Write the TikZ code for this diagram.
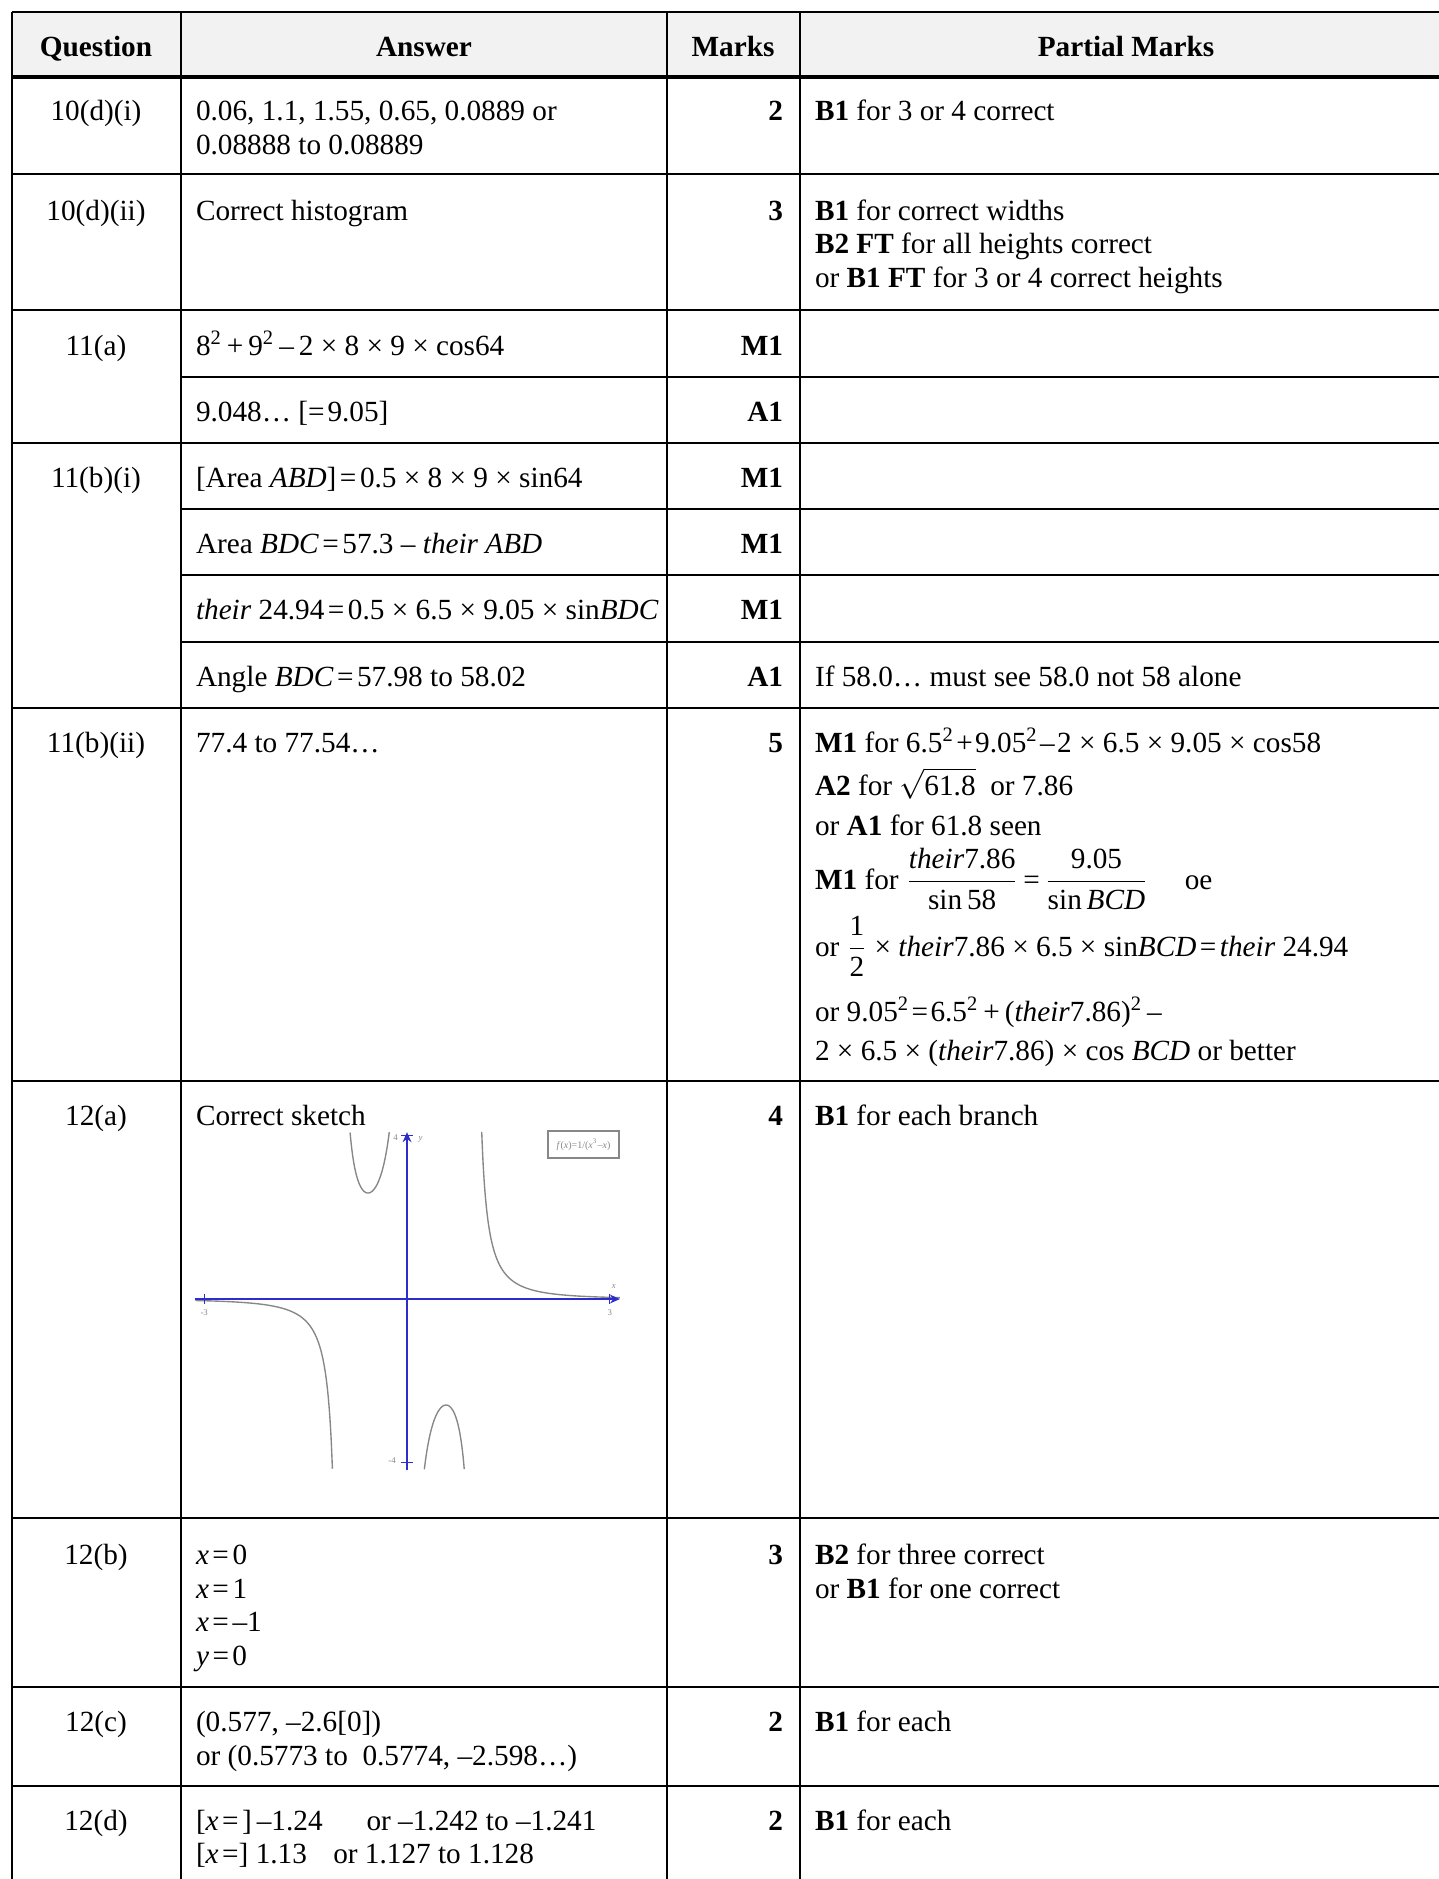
\documentclass[tikz,border=0pt]{standalone}
\usepackage{fontspec}
\setmainfont{Liberation Serif}
\usetikzlibrary{arrows.meta}
\definecolor{hdr}{HTML}{F2F2F2}
\definecolor{axblue}{RGB}{45,45,205}
\definecolor{crv}{RGB}{135,135,135}
\newcommand{\eqs}{\hspace{0.12em}=\hspace{0.12em}}
\begin{document}
\begin{tikzpicture}[x=0.4pt,y=-0.4pt,
  txt/.style={inner sep=0pt, outer sep=0pt, font=\fontsize{11.7}{13.45}\selectfont},
  lt/.style={txt, anchor=base west},
  rt/.style={txt, anchor=base east, font=\fontsize{11.7}{13.45}\selectfont\bfseries},
  ct/.style={txt, anchor=base},
  hd/.style={txt, anchor=base, font=\fontsize{11.7}{13.45}\selectfont\bfseries},
  rule/.style={line width=0.8pt, black},
  hrule/.style={line width=1.3pt, black},
  tinylab/.style={inner sep=0pt, text=crv, font=\fontsize{3.5}{3.5}\selectfont},
  curve/.style={crv, line width=0.55pt},
  axis/.style={axblue, line width=0.9pt, -{Stealth[length=4pt,width=3.5pt]}},
]
\useasboundingbox (0,0) rectangle (1439,1879);
% header
\fill[hdr] (12,12) rectangle (1450,77);
% horizontal rules
\draw[rule] (12,12) -- (1450,12);
\draw[hrule] (12,77) -- (1450,77);
\foreach \yy in {174,310,443,708,1081,1518,1687,1786} \draw[rule] (12,\yy) -- (1450,\yy);
\foreach \yy in {377,509,575,642} \draw[rule] (181,\yy) -- (1450,\yy);
% vertical rules
\foreach \xx in {12,181,667,800} \draw[rule] (\xx,12) -- (\xx,1890);

% header texts
\node[hd] (hq) at (96,57) {Question};
\node[hd] (ha) at (424,57) {Answer};
\node[hd] (hm) at (733,57) {Marks};
\node[hd] (hp) at (1126,57) {Partial Marks};

% 10(d)(i)
\node[ct] (q1) at (96,121) {10(d)(i)};
\node[lt] (a1a) at (196,121) {0.06, 1.1, 1.55, 0.65, 0.0889 or};
\node[lt] (a1b) at (196,154.6) {0.08888 to 0.08889};
\node[rt] (m1) at (783,121) {2};
\node[lt] (p1) at (815,121) {\textbf{B1} for 3 or 4 correct};

% 10(d)(ii)
\node[ct] (q2) at (96,220) {10(d)(ii)};
\node[lt] (a2) at (196,220) {Correct histogram};
\node[rt] (m2) at (783,220) {3};
\node[lt] (p2a) at (815,220) {\textbf{B1} for correct widths};
\node[lt] (p2b) at (815,253.6) {\textbf{B2 FT} for all heights correct};
\node[lt] (p2c) at (815,287.2) {or \textbf{B1 FT} for 3 or 4 correct heights};

% 11(a)
\node[ct] (q3) at (96,355) {11(a)};
\node[lt] (a3a) at (196,355) {8\textsuperscript{2}\,+\,9\textsuperscript{2}\,–\,2 × 8 × 9 × cos64};
\node[rt] (m3a) at (783,355) {M1};
\node[lt] (a3b) at (196,421) {9.048… [=\hspace{0.1em}9.05]};
\node[rt] (m3b) at (783,421) {A1};

% 11(b)(i)
\node[ct] (q4) at (96,487) {11(b)(i)};
\node[lt] (a4a) at (196,487) {[Area \textit{ABD}]\eqs 0.5 × 8 × 9 × sin64};
\node[rt] (m4a) at (783,487) {M1};
\node[lt] (a4b) at (196,553) {Area \textit{BDC}\eqs 57.3 – \textit{their ABD}};
\node[rt] (m4b) at (783,553) {M1};
\node[lt] (a4c) at (196,619) {\textit{their} 24.94\eqs 0.5 × 6.5 × 9.05 × sin\textit{BDC}};
\node[rt] (m4c) at (783,619) {M1};
\node[lt] (a4d) at (196,686) {Angle \textit{BDC}\eqs 57.98 to 58.02};
\node[rt] (m4d) at (783,686) {A1};
\node[lt] (p4) at (815,686) {If 58.0… must see 58.0 not 58 alone};

% 11(b)(ii)
\node[ct] (q5) at (96,752) {11(b)(ii)};
\node[lt] (a5) at (196,752) {77.4 to 77.54…};
\node[rt] (m5) at (783,752) {5};
\node[lt] (p5a) at (815,752) {\textbf{M1} for 6.5\textsuperscript{2}\hspace{0.08em}+\hspace{0.08em}9.05\textsuperscript{2}\hspace{0.08em}–\hspace{0.08em}2 × 6.5 × 9.05 × cos58};
\node[lt] (p5b) at (815,795) {\textbf{A2} for $\sqrt{\mbox{61.8}}$\ \ or 7.86};
\node[lt] (p5c) at (815,835) {or \textbf{A1} for 61.8 seen};
\node[lt] (p5d) at (815,889) {\textbf{M1} for\ ${\displaystyle\frac{\mbox{\textit{their}\/7.86}}{\mbox{sin\,58}}}\mbox{\,=\,}{\displaystyle\frac{\mbox{9.05}}{\mbox{sin\,\textit{BCD}}}}$\quad\ oe};
\node[lt] (p5e) at (815,956) {or\ ${\displaystyle\frac{\mbox{1}}{\mbox{2}}}$\ × \textit{their}\/7.86 × 6.5 × sin\textit{BCD}\eqs\textit{their} 24.94};
\node[lt] (p5f) at (815,1021) {or 9.05\textsuperscript{2}\hspace{0.08em}=\hspace{0.08em}6.5\textsuperscript{2}\,+\,(\textit{their}\/7.86)\textsuperscript{2}\,–};
\node[lt] (p5g) at (815,1060) {2 × 6.5 × (\textit{their}\/7.86) × cos \textit{BCD} or better};

% 12(a)
\node[ct] (q6) at (96,1125) {12(a)};
\node[lt] (a6) at (196,1125) {Correct sketch};
\node[rt] (m6) at (783,1125) {4};
\node[lt] (p6) at (815,1125) {\textbf{B1} for each branch};

% sketch
\begin{scope}[shift={(162.8pt,-519.6pt)}, x=27.04pt, y=16.32pt]
  \draw[curve] plot[domain=-3.13:-1.102, samples=120, smooth] (\x,{1/((\x)*(\x)*(\x)-(\x))});
  \draw[curve] plot[domain=-0.842:-0.2625, samples=120, smooth] (\x,{1/((\x)*(\x)*(\x)-(\x))});
  \draw[curve] plot[domain=0.2565:0.8475, samples=120, smooth] (\x,{1/((\x)*(\x)*(\x)-(\x))});
  \draw[curve] plot[domain=1.105:3.15, samples=120, smooth] (\x,{1/((\x)*(\x)*(\x)-(\x))});
  \coordinate (xl) at (-3.13,0);
  \coordinate (xr) at (3.15,0);
  \coordinate (yb) at (0,-4.19);
  \coordinate (yt) at (0,4.09);
  \draw[axis] (xl) -- (xr);
  \draw[axis] (yb) -- (yt);
  \draw[axblue, line width=0.4pt] (-3,-0.12) -- (-3,0.12) (3,-0.12) -- (3,0.12)
        (-0.09,4) -- (0.09,4) (-0.09,-4) -- (0.09,-4);
  \node[tinylab] (lm3) at (-3,-0.33) {-3};
  \node[tinylab] (lp3) at (3,-0.33) {3};
  \node[tinylab] (lx) at (3.06,0.3) {\textit{x}};
  \node[tinylab] (lp4) at (-0.17,3.95) {4};
  \node[tinylab] (ly) at (0.2,3.9) {\textit{y}};
  \node[tinylab] (lm4) at (-0.22,-3.97) {-4};
\end{scope}
\draw[crv, line width=0.5pt] (548,1131) rectangle (619,1158);
\node[tinylab, font=\fontsize{4}{4}\selectfont] (fbox) at (583.5,1144.5) {\textit{f}(\textit{x})=1/(\textit{x}\textsuperscript{3}–\textit{x})};

% 12(b)
\node[ct] (q7) at (96,1564) {12(b)};
\node[lt] (a7a) at (196,1564) {\textit{x}\eqs 0};
\node[lt] (a7b) at (196,1598) {\textit{x}\eqs 1};
\node[lt] (a7c) at (196,1631) {\textit{x}\eqs –1};
\node[lt] (a7d) at (196,1665) {\textit{y}\eqs 0};
\node[rt] (m7) at (783,1564) {3};
\node[lt] (p7a) at (815,1564) {\textbf{B2} for three correct};
\node[lt] (p7b) at (815,1598) {or \textbf{B1} for one correct};

% 12(c)
\node[ct] (q8) at (96,1731) {12(c)};
\node[lt] (a8a) at (196,1731) {(0.577, –2.6[0])};
\node[lt] (a8b) at (196,1765) {or (0.5773 to\ \ 0.5774, –2.598…)};
\node[rt] (m8) at (783,1731) {2};
\node[lt] (p8) at (815,1731) {\textbf{B1} for each};

% 12(d)
\node[ct] (q9) at (96,1830) {12(d)};
\node[lt] (a9a) at (196,1830) {[\textit{x}\eqs]\,–1.24\hspace{1.5em}or –1.242 to –1.241};
\node[lt] (a9b) at (196,1863) {[\textit{x}\hspace{0.12em}=] 1.13\hspace{0.9em}or 1.127 to 1.128};
\node[rt] (m9) at (783,1830) {2};
\node[lt] (p9) at (815,1830) {\textbf{B1} for each};
\end{tikzpicture}
\end{document}
